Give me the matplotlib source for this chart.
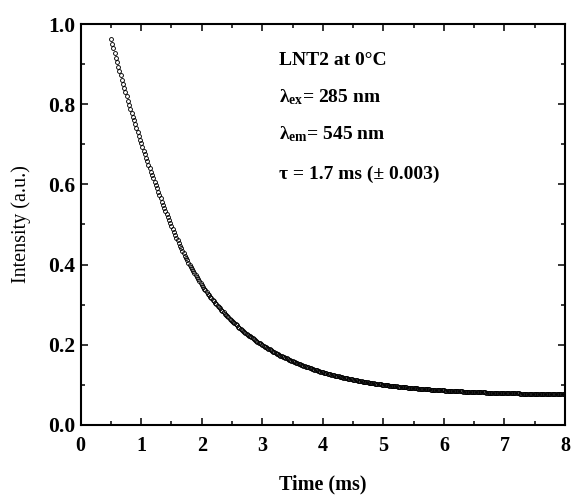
import numpy as np
import matplotlib
matplotlib.use("Agg")
import matplotlib.pyplot as plt
from matplotlib.ticker import MultipleLocator, FormatStrFormatter

# ---- data ----
t_start = 0.5      # ms, first sample
t_step = 0.02      # ms, sampling interval
intensity = [
    0.9632, 0.9511, 0.9393, 0.9277, 0.9162,
    0.9050, 0.8938, 0.8827, 0.8719, 0.8612,
    0.8508, 0.8401, 0.8296, 0.8193, 0.8091,
    0.7992, 0.7890, 0.7789, 0.7691, 0.7594,
    0.7498, 0.7400, 0.7304, 0.7209, 0.7115,
    0.7023, 0.6931, 0.6840, 0.6750, 0.6662,
    0.6575, 0.6487, 0.6401, 0.6316, 0.6233,
    0.6150, 0.6065, 0.5981, 0.5898, 0.5817,
    0.5737, 0.5654, 0.5572, 0.5491, 0.5411,
    0.5332, 0.5254, 0.5178, 0.5102, 0.5028,
    0.4954, 0.4881, 0.4810, 0.4739, 0.4669,
    0.4601, 0.4535, 0.4470, 0.4406, 0.4343,
    0.4280, 0.4220, 0.4162, 0.4104, 0.4047,
    0.3990, 0.3936, 0.3884, 0.3832, 0.3780,
    0.3730, 0.3680, 0.3631, 0.3583, 0.3535,
    0.3488, 0.3444, 0.3400, 0.3357, 0.3314,
    0.3273, 0.3234, 0.3195, 0.3157, 0.3120,
    0.3083, 0.3047, 0.3011, 0.2976, 0.2941,
    0.2907, 0.2873, 0.2840, 0.2808, 0.2776,
    0.2744, 0.2713, 0.2682, 0.2652, 0.2623,
    0.2594, 0.2565, 0.2537, 0.2509, 0.2482,
    0.2455, 0.2428, 0.2402, 0.2377, 0.2351,
    0.2326, 0.2301, 0.2277, 0.2253, 0.2230,
    0.2207, 0.2184, 0.2162, 0.2140, 0.2118,
    0.2097, 0.2076, 0.2055, 0.2035, 0.2015,
    0.1995, 0.1976, 0.1956, 0.1938, 0.1919,
    0.1901, 0.1883, 0.1865, 0.1848, 0.1831,
    0.1814, 0.1797, 0.1781, 0.1765, 0.1749,
    0.1733, 0.1718, 0.1703, 0.1688, 0.1673,
    0.1659, 0.1645, 0.1631, 0.1617, 0.1603,
    0.1590, 0.1577, 0.1564, 0.1551, 0.1539,
    0.1526, 0.1514, 0.1502, 0.1490, 0.1478,
    0.1467, 0.1456, 0.1445, 0.1434, 0.1423,
    0.1413, 0.1402, 0.1392, 0.1382, 0.1372,
    0.1362, 0.1352, 0.1343, 0.1334, 0.1324,
    0.1315, 0.1306, 0.1298, 0.1289, 0.1280,
    0.1272, 0.1264, 0.1256, 0.1248, 0.1240,
    0.1232, 0.1224, 0.1217, 0.1210, 0.1202,
    0.1195, 0.1188, 0.1181, 0.1174, 0.1167,
    0.1161, 0.1154, 0.1148, 0.1142, 0.1136,
    0.1130, 0.1124, 0.1118, 0.1112, 0.1106,
    0.1100, 0.1094, 0.1089, 0.1084, 0.1078,
    0.1073, 0.1068, 0.1063, 0.1058, 0.1053,
    0.1048, 0.1043, 0.1039, 0.1034, 0.1029,
    0.1025, 0.1021, 0.1016, 0.1012, 0.1008,
    0.1004, 0.1000, 0.0996, 0.0992, 0.0988,
    0.0984, 0.0980, 0.0977, 0.0973, 0.0969,
    0.0966, 0.0962, 0.0959, 0.0955, 0.0952,
    0.0949, 0.0946, 0.0942, 0.0939, 0.0936,
    0.0933, 0.0930, 0.0927, 0.0924, 0.0921,
    0.0919, 0.0916, 0.0913, 0.0911, 0.0908,
    0.0905, 0.0903, 0.0900, 0.0898, 0.0895,
    0.0893, 0.0890, 0.0888, 0.0886, 0.0884,
    0.0881, 0.0879, 0.0877, 0.0875, 0.0873,
    0.0871, 0.0869, 0.0867, 0.0865, 0.0863,
    0.0861, 0.0859, 0.0857, 0.0855, 0.0854,
    0.0852, 0.0850, 0.0848, 0.0847, 0.0845,
    0.0843, 0.0842, 0.0840, 0.0839, 0.0837,
    0.0836, 0.0834, 0.0833, 0.0831, 0.0830,
    0.0829, 0.0827, 0.0826, 0.0824, 0.0823,
    0.0822, 0.0821, 0.0819, 0.0818, 0.0817,
    0.0816, 0.0815, 0.0813, 0.0812, 0.0811,
    0.0810, 0.0809, 0.0808, 0.0807, 0.0806,
    0.0805, 0.0804, 0.0803, 0.0802, 0.0801,
    0.0800, 0.0799, 0.0798, 0.0797, 0.0796,
    0.0795, 0.0795, 0.0794, 0.0793, 0.0792,
    0.0791, 0.0790, 0.0790, 0.0789, 0.0788,
    0.0787, 0.0787, 0.0786, 0.0785, 0.0785,
    0.0784, 0.0783, 0.0783, 0.0782, 0.0781,
    0.0781, 0.0780, 0.0779, 0.0779, 0.0778,
    0.0778, 0.0777, 0.0776, 0.0776, 0.0775,
    0.0775, 0.0774, 0.0774, 0.0773, 0.0773,
    0.0772, 0.0772, 0.0771, 0.0771, 0.0770,
    0.0770, 0.0769, 0.0769, 0.0768, 0.0768,
    0.0768, 0.0767, 0.0767, 0.0766, 0.0766,
    0.0765,
]
time_ms = t_start + t_step * np.arange(len(intensity))

x_ticks = [0, 1, 2, 3, 4, 5, 6, 7, 8]
y_ticks = [0.0, 0.2, 0.4, 0.6, 0.8, 1.0]

annotation_lines = [
    "LNT2 at 0°C",
    r"λ$_{\mathrm{ex}}$= 285 nm",
    r"λ$_{\mathrm{em}}$= 545 nm",
    "τ = 1.7 ms (± 0.003)",
]

# ---- style ----
plt.rcParams["font.family"] = ["Liberation Serif", "DejaVu Serif"]
plt.rcParams["mathtext.fontset"] = "custom"
plt.rcParams["mathtext.rm"] = "Liberation Serif:bold"
plt.rcParams["mathtext.bf"] = "Liberation Serif:bold"
plt.rcParams["mathtext.it"] = "Liberation Serif:bold:italic"

fig = plt.figure(figsize=(5.71, 4.98), dpi=100)
ax = fig.add_axes([0.1413, 0.1466, 0.9895 - 0.1413, 0.9518 - 0.1466])

ax.plot(time_ms, intensity, linestyle="none", marker="o", ms=2.8,
        mfc="none", mec="black", mew=0.65)

ax.set_xlim(0, 8)
ax.set_ylim(0, 1.0)
ax.set_xticks(x_ticks)
ax.set_yticks(y_ticks)
ax.xaxis.set_minor_locator(MultipleLocator(0.5))
ax.yaxis.set_minor_locator(MultipleLocator(0.1))
ax.yaxis.set_major_formatter(FormatStrFormatter("%.1f"))

for s in ax.spines.values():
    s.set_linewidth(1.5)

ax.tick_params(which="both", direction="in", top=True, right=True, width=1.1)
ax.tick_params(which="major", length=5)
ax.tick_params(which="minor", length=3)
ax.tick_params(axis="x", which="major", pad=8)
ax.tick_params(axis="y", which="major", pad=4)

for lab in ax.get_xticklabels():
    lab.set_fontsize(14.5)
    lab.set_fontweight("bold")
for lab in ax.get_yticklabels():
    lab.set_fontsize(15.5)
    lab.set_fontweight("bold")

ax.set_xlabel("Time (ms)", fontsize=14.5, fontweight="bold", labelpad=13)
ax.set_ylabel("Intensity (a.u.)", fontsize=14.5, labelpad=12)

ys = [0.897, 0.805, 0.713, 0.613]
for txt, yy in zip(annotation_lines, ys):
    ax.text(0.41, yy, txt, transform=ax.transAxes, fontsize=14,
            fontweight="bold", va="baseline", ha="left")

fig.savefig("out.png", dpi=100)
